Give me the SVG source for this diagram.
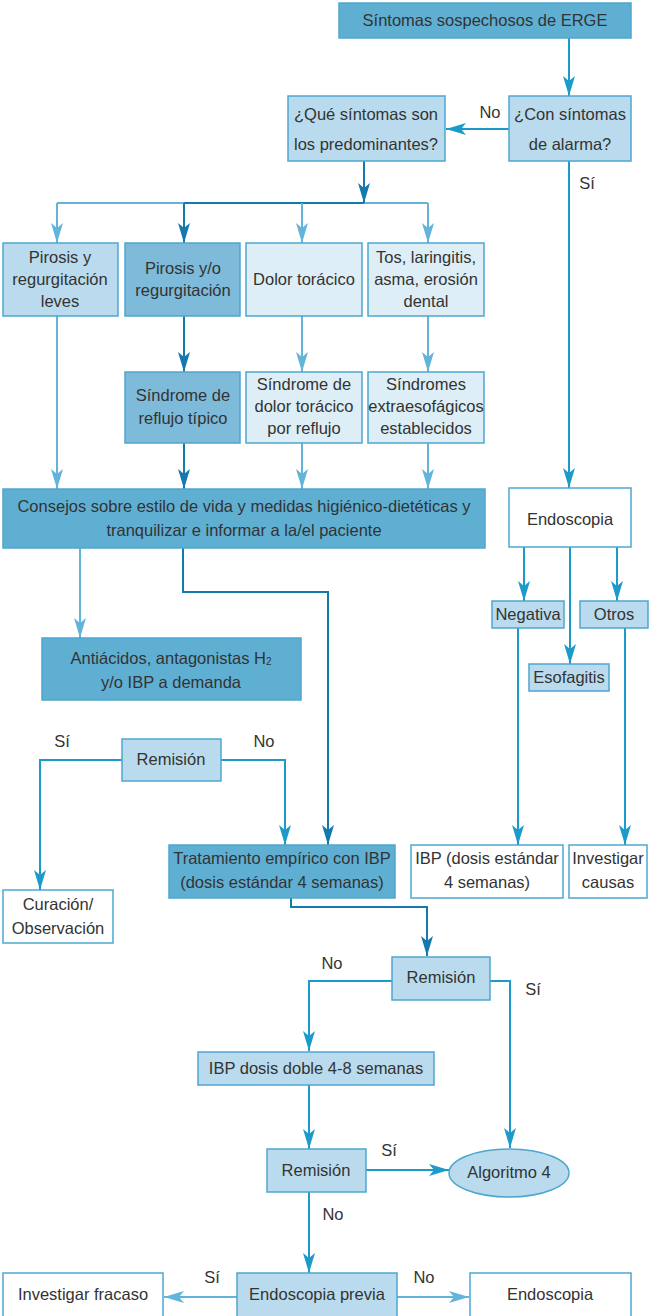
<svg xmlns="http://www.w3.org/2000/svg" width="652" height="1316" viewBox="0 0 652 1316">
<style>
text{font-family:"Liberation Sans",Arial,sans-serif;font-size:16.5px;fill:#333;text-anchor:middle}
.b{stroke:#4ea6cf;stroke-width:1.5}
.f1{fill:#5fafd3}.f2{fill:#7ebad9}.f3{fill:#b9dbed}.f4{fill:#ddeef7}.f5{fill:#fff}
.c{fill:none;stroke-width:2}
.d{stroke:#1479ad}.m{stroke:#1c9bcb}.l{stroke:#63b4da}
</style>
<defs>
<marker id="ad" viewBox="0 0 20 12" refX="20" refY="6" markerWidth="20" markerHeight="12" markerUnits="userSpaceOnUse" orient="auto"><path d="M0,0 L20,6 L0,12 L5,6 z" fill="#1479ad"/></marker>
<marker id="am" viewBox="0 0 20 12" refX="20" refY="6" markerWidth="20" markerHeight="12" markerUnits="userSpaceOnUse" orient="auto"><path d="M0,0 L20,6 L0,12 L5,6 z" fill="#1c9bcb"/></marker>
<marker id="al" viewBox="0 0 20 12" refX="20" refY="6" markerWidth="20" markerHeight="12" markerUnits="userSpaceOnUse" orient="auto"><path d="M0,0 L20,6 L0,12 L5,6 z" fill="#63b4da"/></marker>
</defs>

<g id="connectors">
<path class="c m" d="M569,38 V96" marker-end="url(#am)"/>
<path class="c m" d="M509,129 H446" marker-end="url(#am)"/>
<path class="c m" d="M569,161 V488" marker-end="url(#am)"/>
<path class="c l" d="M57,203 H428"/>
<path class="c d" d="M184,203 H364"/>
<path class="c d" d="M364,161 V203" marker-end="url(#ad)"/>
<path class="c l" d="M57,203 V243" marker-end="url(#al)"/>
<path class="c d" d="M184,203 V243" marker-end="url(#ad)"/>
<path class="c l" d="M302,203 V243" marker-end="url(#al)"/>
<path class="c l" d="M428,203 V243" marker-end="url(#al)"/>
<path class="c d" d="M184,316 V372" marker-end="url(#ad)"/>
<path class="c l" d="M302,316 V372" marker-end="url(#al)"/>
<path class="c l" d="M428,316 V372" marker-end="url(#al)"/>
<path class="c l" d="M57,316 V489" marker-end="url(#al)"/>
<path class="c d" d="M184,443 V489" marker-end="url(#ad)"/>
<path class="c l" d="M302,443 V489" marker-end="url(#al)"/>
<path class="c l" d="M428,443 V489" marker-end="url(#al)"/>
<path class="c l" d="M80,548 V638" marker-end="url(#al)"/>
<path class="c d" d="M183,548 V592 H328 V845" marker-end="url(#ad)"/>
<path class="c m" d="M524,547 V601" marker-end="url(#am)"/>
<path class="c m" d="M570,547 V664" marker-end="url(#am)"/>
<path class="c m" d="M617,547 V601" marker-end="url(#am)"/>
<path class="c m" d="M518,628 V845" marker-end="url(#am)"/>
<path class="c m" d="M625,628 V845" marker-end="url(#am)"/>
<path class="c m" d="M122,760 H40 V890" marker-end="url(#am)"/>
<path class="c m" d="M221,760 H285 V845" marker-end="url(#am)"/>
<path class="c d" d="M291,898 V907 H427 V956" marker-end="url(#ad)"/>
<path class="c m" d="M392,981 H309 V1051" marker-end="url(#am)"/>
<path class="c m" d="M490,981 H510 V1148" marker-end="url(#am)"/>
<path class="c m" d="M309,1085 V1149" marker-end="url(#am)"/>
<path class="c m" d="M366,1170 H449" marker-end="url(#am)"/>
<path class="c m" d="M309,1192 V1273" marker-end="url(#am)"/>
<path class="c l" d="M237,1297 H164" marker-end="url(#al)"/>
<path class="c l" d="M397,1297 H469" marker-end="url(#al)"/>
</g>

<g id="labels">
<text x="490" y="118">No</text>
<text x="587" y="189">Sí</text>
<text x="62" y="747">Sí</text>
<text x="264" y="747">No</text>
<text x="332" y="969">No</text>
<text x="533" y="995">Sí</text>
<text x="389" y="1156">Sí</text>
<text x="333" y="1220">No</text>
<text x="212" y="1283">Sí</text>
<text x="424" y="1283">No</text>
</g>

<g id="n_sintomas"><rect class="b f1" x="339" y="3" width="292" height="35"/><text x="485" y="26">Síntomas sospechosos de ERGE</text></g>
<g id="n_alarma"><rect class="b f3" x="509" y="96" width="122" height="65"/><text x="570" y="120">¿Con síntomas</text><text x="570" y="150">de alarma?</text></g>
<g id="n_predominantes"><rect class="b f3" x="288" y="96" width="157" height="65"/><text x="366" y="120">¿Qué síntomas son</text><text x="366" y="150">los predominantes?</text></g>
<g id="n_leves"><rect class="b f3" x="3" y="243" width="115" height="73"/><text x="60" y="263">Pirosis y</text><text x="60" y="285">regurgitación</text><text x="60" y="307">leves</text></g>
<g id="n_pirosis"><rect class="b f2" x="125" y="243" width="115" height="73"/><text x="183" y="274">Pirosis y/o</text><text x="183" y="296">regurgitación</text></g>
<g id="n_dolor"><rect class="b f4" x="246" y="243" width="116" height="73"/><text x="304" y="285">Dolor torácico</text></g>
<g id="n_tos"><rect class="b f4" x="368" y="243" width="116" height="73"/><text x="426" y="263">Tos, laringitis,</text><text x="426" y="285">asma, erosión</text><text x="426" y="307">dental</text></g>
<g id="n_tipico"><rect class="b f2" x="125" y="372" width="115" height="71"/><text x="183" y="401">Síndrome de</text><text x="183" y="424">reflujo típico</text></g>
<g id="n_dolorreflujo"><rect class="b f4" x="246" y="372" width="116" height="71"/><text x="304" y="390">Síndrome de</text><text x="304" y="412">dolor torácico</text><text x="304" y="434">por reflujo</text></g>
<g id="n_extra"><rect class="b f4" x="368" y="372" width="116" height="71"/><text x="426" y="390">Síndromes</text><text x="426" y="412">extraesofágicos</text><text x="426" y="434">establecidos</text></g>
<g id="n_consejos"><rect class="b f1" x="3" y="489" width="482" height="59"/><text x="244" y="512">Consejos sobre estilo de vida y medidas higiénico-dietéticas y</text><text x="244" y="536">tranquilizar e informar a la/el paciente</text></g>
<g id="n_endoscopia1"><rect class="b f5" x="509" y="488" width="122" height="59"/><text x="570" y="525">Endoscopia</text></g>
<g id="n_negativa"><rect class="b f3" x="492" y="601" width="72" height="27"/><text x="528" y="620">Negativa</text></g>
<g id="n_otros"><rect class="b f3" x="580" y="601" width="68" height="27"/><text x="614" y="620">Otros</text></g>
<g id="n_esofagitis"><rect class="b f3" x="529" y="664" width="80" height="27"/><text x="569" y="683">Esofagitis</text></g>
<g id="n_antiacidos"><rect class="b f1" x="42" y="638" width="259" height="62"/><text x="171" y="664">Antiácidos, antagonistas H<tspan font-size="10" dy="1">2</tspan></text><text x="171" y="688">y/o IBP a demanda</text></g>
<g id="n_remision1"><rect class="b f3" x="122" y="739" width="99" height="42"/><text x="171" y="765">Remisión</text></g>
<g id="n_tratamiento"><rect class="b f1" x="169" y="845" width="226" height="53"/><text x="282" y="864">Tratamiento empírico con IBP</text><text x="282" y="888">(dosis estándar 4 semanas)</text></g>
<g id="n_ibpestandar"><rect class="b f5" x="411" y="845" width="152" height="53"/><text x="487" y="864">IBP (dosis estándar</text><text x="487" y="888">4 semanas)</text></g>
<g id="n_investigar"><rect class="b f5" x="569" y="845" width="78" height="53"/><text x="608" y="864">Investigar</text><text x="608" y="888">causas</text></g>
<g id="n_curacion"><rect class="b f5" x="3" y="890" width="110" height="53"/><text x="58" y="910">Curación/</text><text x="58" y="934">Observación</text></g>
<g id="n_remision2"><rect class="b f3" x="392" y="957" width="98" height="43"/><text x="441" y="983">Remisión</text></g>
<g id="n_ibpdoble"><rect class="b f3" x="198" y="1052" width="236" height="33"/><text x="316" y="1074">IBP dosis doble 4-8 semanas</text></g>
<g id="n_remision3"><rect class="b f3" x="267" y="1149" width="99" height="43"/><text x="316" y="1176">Remisión</text></g>
<g id="n_algoritmo"><ellipse class="b f3" cx="509" cy="1173" rx="60" ry="24"/><text x="509" y="1178">Algoritmo 4</text></g>
<g id="n_endoprevia"><rect class="b f3" x="237" y="1273" width="160" height="45"/><text x="317" y="1300">Endoscopia previa</text></g>
<g id="n_fracaso"><rect class="b f5" x="3" y="1273" width="160" height="45"/><text x="83" y="1300">Investigar fracaso</text></g>
<g id="n_endoscopia2"><rect class="b f5" x="470" y="1273" width="161" height="45"/><text x="550" y="1300">Endoscopia</text></g>
</svg>
